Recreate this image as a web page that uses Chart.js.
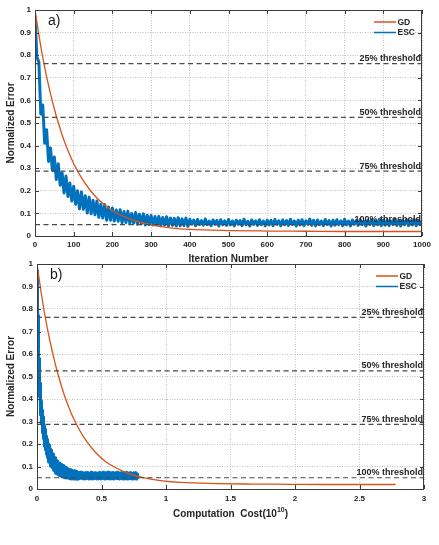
<!DOCTYPE html>
<html>
<head>
<meta charset="utf-8">
<script src="https://cdn.jsdelivr.net/npm/chart.js@4.4.0/dist/chart.umd.min.js"></script>
<style>
  body { margin: 0; background: #fff; }
  #contenedor { position: relative; width: 439px; height: 545px; }
  canvas { position: absolute; left: 0; }
</style>
</head>
<body>
<div id="contenedor">
  <canvas id="graficoA" width="439" height="265" style="top:0"></canvas>
  <canvas id="graficoB" width="439" height="270" style="top:254px"></canvas>
</div>
<script>
// ---- Datos ----

// GD: iteraciones muestreadas y error normalizado
const iterGD = [0, 10, 20, 30, 40, 50, 60, 70, 80, 90, 100, 120, 140, 160, 180, 200,
                250, 300, 350, 400, 500, 600, 700, 800, 900, 1000];
const errorGD = [1.0, 0.89, 0.79, 0.705, 0.63, 0.562, 0.502, 0.448, 0.40, 0.358, 0.32, 0.258, 0.208, 0.168, 0.137, 0.112,
                 0.072, 0.049, 0.036, 0.029, 0.024, 0.022, 0.021, 0.02, 0.02, 0.02];

// ESC: una muestra cada 5 iteraciones (0..1000), con el ruido de la banda
const pasoESC = 5;
const errorESC = [
  0.97, 0.79, 0.77, 0.54, 0.58, 0.41, 0.47, 0.33, 0.39, 0.29,
  0.35, 0.25, 0.32, 0.225, 0.28, 0.19, 0.265, 0.175, 0.235, 0.155,
  0.22, 0.14, 0.2, 0.12, 0.195, 0.118, 0.178, 0.102, 0.172, 0.098,
  0.158, 0.094, 0.155, 0.083, 0.14, 0.08, 0.139, 0.07, 0.128, 0.07,
  0.124, 0.066, 0.115, 0.065, 0.116, 0.059, 0.108, 0.06, 0.11, 0.055,
  0.1, 0.057, 0.104, 0.052, 0.096, 0.054, 0.098, 0.049, 0.092, 0.051,
  0.091, 0.049, 0.086, 0.05, 0.087, 0.046, 0.082, 0.048, 0.085, 0.045,
  0.08, 0.047, 0.078, 0.044, 0.081, 0.045, 0.076, 0.046, 0.079, 0.043,
  0.074, 0.053, 0.07, 0.045, 0.073, 0.051, 0.068, 0.048, 0.075, 0.05,
  0.066, 0.046, 0.071, 0.052, 0.069, 0.044, 0.072, 0.05, 0.067, 0.047,
  0.073, 0.049, 0.066, 0.045, 0.07, 0.052, 0.068, 0.046, 0.074, 0.05,
  0.065, 0.044, 0.071, 0.051, 0.067, 0.047, 0.072, 0.05, 0.066, 0.045,
  0.07, 0.049, 0.069, 0.046, 0.073, 0.052, 0.067, 0.045, 0.071, 0.05,
  0.068, 0.047, 0.074, 0.051, 0.066, 0.044, 0.07, 0.049, 0.072, 0.046,
  0.067, 0.052, 0.075, 0.047, 0.069, 0.045, 0.071, 0.05, 0.066, 0.046,
  0.073, 0.051, 0.068, 0.044, 0.07, 0.048, 0.072, 0.05, 0.067, 0.046,
  0.074, 0.049, 0.066, 0.045, 0.071, 0.052, 0.068, 0.047, 0.073, 0.05,
  0.065, 0.044, 0.07, 0.051, 0.072, 0.046, 0.067, 0.05, 0.074, 0.045,
  0.069, 0.048, 0.071, 0.046, 0.066, 0.051, 0.073, 0.047, 0.068, 0.044,
  0.07, 0.05, 0.072, 0.046, 0.067, 0.049, 0.073, 0.045, 0.069, 0.05,
  0.066
];

// coste de computo por iteracion (en unidades de 10^10)
const costeGD = 0.00278;
const costeESC = 0.00078;

// umbrales horizontales
const umbrales = [0.7625, 0.525, 0.2875, 0.05];
const etiquetasUmbral = ['25% threshold', '50% threshold', '75% threshold', '100% threshold'];

// marcas de los ejes
const ticksY = [0, 0.1, 0.2, 0.3, 0.4, 0.5, 0.6, 0.7, 0.8, 0.9, 1];
const ticksIter = [0, 100, 200, 300, 400, 500, 600, 700, 800, 900, 1000];
const ticksCoste = [0, 0.5, 1, 1.5, 2, 2.5, 3];

const seriesLeyenda = ['GD', 'ESC'];
const FUENTE = '"Liberation Sans", Arial, sans-serif';
const TEXTO = '#262626';

// ---- Plugin: marco estilo matlab, leyenda, umbrales y titulos ----
const marcoMatlab = {
  id: 'marcoMatlab',
  afterDraw(chart, args, op) {
    const ctx = chart.ctx;
    const a = chart.chartArea;
    const sx = chart.scales.x, sy = chart.scales.y;
    ctx.save();

    // texto de los umbrales, encima de cada linea
    ctx.font = 'bold 9px ' + FUENTE;
    ctx.fillStyle = TEXTO;
    ctx.textAlign = 'right';
    ctx.textBaseline = 'alphabetic';
    umbrales.forEach(function (u, i) {
      ctx.fillText(etiquetasUmbral[i], a.right - 1, sy.getPixelForValue(u) - 2.5);
    });

    // marco y marcas hacia dentro en los cuatro lados
    ctx.strokeStyle = '#3c3c3c';
    ctx.lineWidth = 1;
    ctx.beginPath();
    sx.ticks.forEach(function (t) {
      const p = Math.round(sx.getPixelForValue(t.value)) + 0.5;
      ctx.moveTo(p, a.bottom); ctx.lineTo(p, a.bottom - 4);
      ctx.moveTo(p, a.top); ctx.lineTo(p, a.top + 4);
    });
    sy.ticks.forEach(function (t) {
      const p = Math.round(sy.getPixelForValue(t.value)) + 0.5;
      ctx.moveTo(a.left, p); ctx.lineTo(a.left + 4, p);
      ctx.moveTo(a.right, p); ctx.lineTo(a.right - 4, p);
    });
    ctx.stroke();
    ctx.strokeRect(a.left + 0.5, a.top + 0.5, a.right - a.left - 1, a.bottom - a.top);

    // leyenda sin caja, arriba a la derecha
    ctx.font = 'bold 8.5px ' + FUENTE;
    ctx.textAlign = 'left';
    ctx.textBaseline = 'middle';
    seriesLeyenda.forEach(function (nombre, i) {
      const ds = chart.data.datasets.find(d => d.label === nombre);
      const y = a.top + 12 + i * 10.5;
      ctx.strokeStyle = ds.borderColor;
      ctx.lineWidth = 1.5;
      ctx.beginPath();
      ctx.moveTo(a.right - 48, y); ctx.lineTo(a.right - 26, y);
      ctx.stroke();
      ctx.fillStyle = TEXTO;
      ctx.fillText(nombre, a.right - 24.5, y + 0.5);
    });

    // etiqueta del panel
    ctx.font = '14px ' + FUENTE;
    ctx.fillStyle = '#1a1a1a';
    ctx.fillText(op.panel, a.left + 13, a.top + 11);

    // titulo eje y
    ctx.font = 'bold 10px ' + FUENTE;
    ctx.fillStyle = TEXTO;
    ctx.save();
    ctx.translate(11, (a.top + a.bottom) / 2);
    ctx.rotate(-Math.PI / 2);
    ctx.textAlign = 'center';
    ctx.fillText('Normalized Error', 0, 0);
    ctx.restore();

    // titulo eje x (con superindice opcional)
    const cx = (a.left + a.right) / 2;
    ctx.textAlign = 'left';
    ctx.font = 'bold 10px ' + FUENTE;
    const w1 = ctx.measureText(op.tituloX).width;
    let w2 = 0, w3 = 0;
    if (op.sup) {
      ctx.font = 'bold 7px ' + FUENTE;
      w2 = ctx.measureText(op.sup).width;
      ctx.font = 'bold 10px ' + FUENTE;
      w3 = ctx.measureText(op.fin).width;
    }
    let x0 = cx - (w1 + w2 + w3) / 2;
    ctx.fillText(op.tituloX, x0, op.yTitulo);
    if (op.sup) {
      ctx.font = 'bold 7px ' + FUENTE;
      ctx.fillText(op.sup, x0 + w1, op.yTitulo - 3.5);
      ctx.font = 'bold 10px ' + FUENTE;
      ctx.fillText(op.fin, x0 + w1 + w2, op.yTitulo);
    }
    ctx.restore();
  }
};

// construye los datasets de un panel a partir de las series
function crearDatasets(xGD, xESC, xMax) {
  const lineasUmbral = umbrales.map(function (u) {
    return {
      label: 'umbral',
      data: [{ x: 0, y: u }, { x: xMax, y: u }],
      borderColor: '#4a4a4a',
      borderWidth: 1.2,
      borderDash: [5, 3.5],
      pointRadius: 0
    };
  });
  return lineasUmbral.concat([
    {
      label: 'GD',
      data: xGD.map((x, i) => ({ x: x, y: errorGD[i] })),
      borderColor: '#D95319',
      borderWidth: 1.3,
      pointRadius: 0,
      cubicInterpolationMode: 'monotone'
    },
    {
      label: 'ESC',
      data: xESC.map((x, i) => ({ x: x, y: errorESC[i] })),
      borderColor: '#0072BD',
      borderWidth: 3,
      borderJoinStyle: 'round',
      borderCapStyle: 'round',
      pointRadius: 0,
      tension: 0
    }
  ]);
}

function configEje(ticks, anchoFijo, altoFijo) {
  return {
    type: 'linear',
    min: ticks[0],
    max: ticks[ticks.length - 1],
    afterBuildTicks: function (eje) { eje.ticks = ticks.map(v => ({ value: v })); },
    afterFit: function (eje) {
      if (anchoFijo) eje.width = anchoFijo;
      if (altoFijo) eje.height = altoFijo;
    },
    grid: { color: '#b4b4b4', lineWidth: 0.8, drawTicks: false },
    border: { display: false, dash: [1, 1.5] },
    ticks: {
      color: TEXTO,
      font: { family: FUENTE, size: 8, weight: 'bold' },
      padding: 4,
      autoSkip: false,
      maxRotation: 0,
      callback: v => String(v)
    }
  };
}

function crearGrafico(id, datasets, ticksX, pad, anchoY, altoX, opPlugin) {
  const ejeX = configEje(ticksX, null, altoX);
  ejeX.ticks.padding = opPlugin.padX;
  return new Chart(document.getElementById(id).getContext('2d'), {
    type: 'line',
    data: { datasets: datasets },
    options: {
      responsive: false,
      animation: false,
      layout: { padding: pad },
      scales: {
        x: ejeX,
        y: configEje(ticksY, anchoY, null)
      },
      plugins: {
        legend: { display: false },
        tooltip: { enabled: false },
        marcoMatlab: opPlugin
      }
    },
    plugins: [marcoMatlab]
  });
}

// eje x de cada panel
const xIterESC = errorESC.map((v, i) => i * pasoESC);
const xCosteGD = iterGD.map(it => it * costeGD);
const xCosteESC = xIterESC.map(it => it * costeESC);

// a) frente a iteraciones
crearGrafico('graficoA', crearDatasets(iterGD, xIterESC, 1000), ticksIter,
  { top: 10, right: 17, left: 0, bottom: 0 }, 35, 29,
  { panel: 'a)', tituloX: 'Iteration Number', yTitulo: 259, padX: 4 });

// b) frente a coste de computo
crearGrafico('graficoB', crearDatasets(xCosteGD, xCosteESC, 3), ticksCoste,
  { top: 10, right: 15, left: 0, bottom: 0 }, 37, 35,
  { panel: 'b)', tituloX: 'Computation  Cost(10', sup: '10', fin: ')', yTitulo: 260, padX: 5 });
</script>
</body>
</html>
